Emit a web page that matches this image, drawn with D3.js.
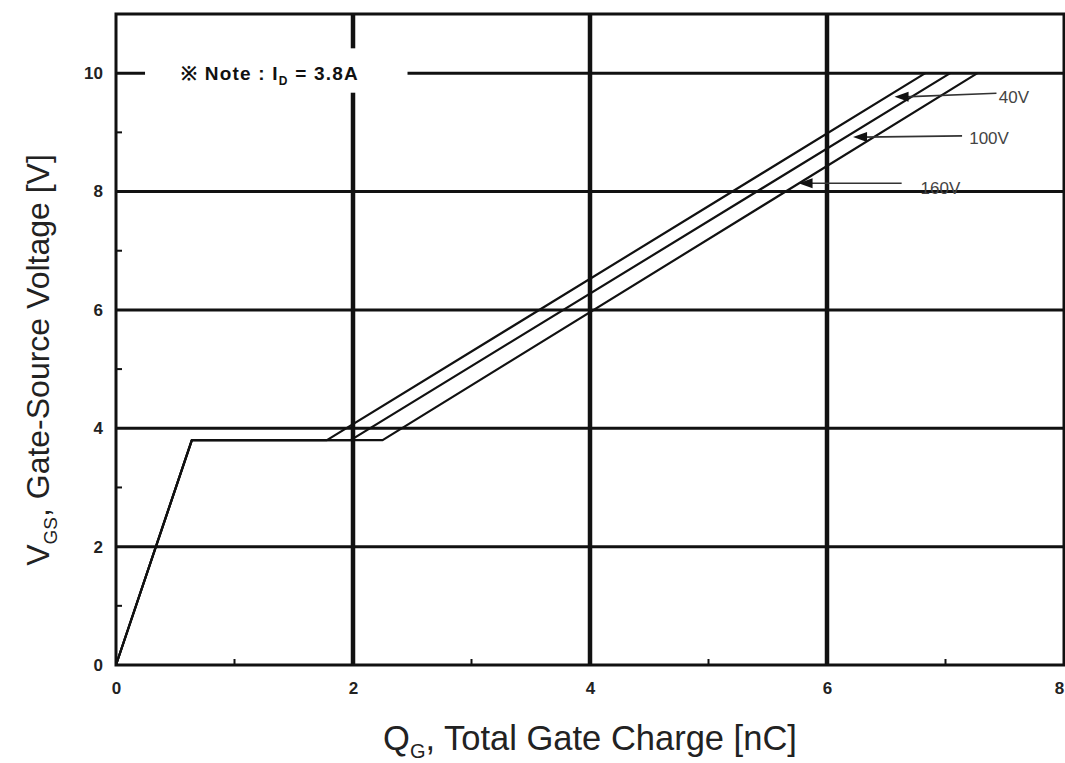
<!DOCTYPE html>
<html>
<head>
<meta charset="utf-8">
<script src="https://cdn.jsdelivr.net/npm/d3@7"></script>
<style>
  html, body { margin: 0; padding: 0; background: #fff; }
  svg { display: block; }
  text { font-family: "Liberation Sans", Arial, sans-serif; }
</style>
</head>
<body>
<svg id="chart" width="1065" height="763"></svg>
<script>
// ---- data ----
const seriesNames = ["40V", "100V", "160V"];
const seriesQ = [
  [0, 0.64, 1.78, 6.83],
  [0, 0.64, 1.98, 7.04],
  [0, 0.64, 2.25, 7.27]
];
const seriesV = [
  [0, 3.8, 3.8, 10],
  [0, 3.8, 3.8, 10],
  [0, 3.8, 3.8, 10]
];
const xTicks = [0, 2, 4, 6, 8];
const xMinorTicks = [1, 3, 5, 7];
const yTicks = [0, 2, 4, 6, 8, 10];
const yMinorTicks = [1, 3, 5, 7, 9];
const xGrid = [2, 4, 6];
const yGrid = [2, 4, 6, 8, 10];
const annTipQ = [6.57, 6.22, 5.76];
const annTipV = [9.6, 8.92, 8.14];
const annTailQ = [7.43, 7.14, 6.63];
const annTailV = [9.66, 8.94, 8.14];
const annTextQ = [7.45, 7.2, 6.79];
const annTextV = [9.6, 8.9, 8.06];
const noteText = ["※  Note : I", "D", " = 3.8A"];
const noteBox = { q0: 0.245, q1: 2.46, v0: 9.67, v1: 10.42 };

// ---- layout ----
const svg = d3.select("#chart");
const x = d3.scaleLinear().domain([0, 8]).range([116, 1064]);
const y = d3.scaleLinear().domain([0, 11]).range([665, 14]);

// grid lines
const g = svg.append("g");
g.selectAll(".hgrid").data(yGrid).enter().append("line")
  .attr("x1", x(0)).attr("x2", x(8))
  .attr("y1", d => y(d)).attr("y2", d => y(d))
  .attr("stroke", "#111").attr("stroke-width", 3);
g.selectAll(".vgrid").data(xGrid).enter().append("line")
  .attr("x1", d => x(d)).attr("x2", d => x(d))
  .attr("y1", y(0)).attr("y2", y(11))
  .attr("stroke", "#111").attr("stroke-width", 4.5);

// note background (interrupts grid)
g.append("rect")
  .attr("x", x(noteBox.q0)).attr("y", y(noteBox.v1))
  .attr("width", x(noteBox.q1) - x(noteBox.q0))
  .attr("height", y(noteBox.v0) - y(noteBox.v1))
  .attr("fill", "#fff");

// frame
g.append("rect")
  .attr("x", x(0)).attr("y", y(11))
  .attr("width", x(8) - x(0)).attr("height", y(0) - y(11))
  .attr("fill", "none").attr("stroke", "#111").attr("stroke-width", 3);

// axes
const xAxis = d3.axisBottom(x).tickValues(xTicks).tickSize(0).tickPadding(17).tickFormat(d3.format("d"));
const yAxis = d3.axisLeft(y).tickValues(yTicks).tickSize(0).tickPadding(13).tickFormat(d3.format("d"));
const gx = svg.append("g").attr("transform", `translate(0,${y(0)})`).call(xAxis);
const gy = svg.append("g").attr("transform", `translate(${x(0)},0)`).call(yAxis);
[gx, gy].forEach(a => {
  a.select(".domain").remove();
  a.selectAll("text").attr("font-size", 17).attr("font-weight", "bold")
    .attr("fill", "#222").style("font-family", '"Liberation Sans", Arial, sans-serif');
});
// keep the last x label inside the page edge
gx.selectAll(".tick text").filter(d => d === 8).attr("dx", -5);

// minor ticks (inward)
svg.selectAll(".xminor").data(xMinorTicks).enter().append("line")
  .attr("x1", d => x(d)).attr("x2", d => x(d))
  .attr("y1", y(0)).attr("y2", y(0) - 6)
  .attr("stroke", "#111").attr("stroke-width", 2);
svg.selectAll(".yminor").data(yMinorTicks).enter().append("line")
  .attr("x1", x(0)).attr("x2", x(0) + 6)
  .attr("y1", d => y(d)).attr("y2", d => y(d))
  .attr("stroke", "#111").attr("stroke-width", 2);

// curves
const line = d3.line().x(d => x(d[0])).y(d => y(d[1]));
seriesNames.forEach((name, i) => {
  const pts = seriesQ[i].map((q, j) => [q, seriesV[i][j]]);
  svg.append("path").datum(pts).attr("d", line)
    .attr("fill", "none").attr("stroke", "#111").attr("stroke-width", 2.2)
    .attr("stroke-linejoin", "round");
});

// annotations with arrows
seriesNames.forEach((name, i) => {
  svg.append("line")
    .attr("x1", x(annTipQ[i]) + 10).attr("y1", y(annTipV[i]))
    .attr("x2", x(annTailQ[i])).attr("y2", y(annTailV[i]))
    .attr("stroke", "#333").attr("stroke-width", 1.6);
  svg.append("path")
    .attr("d", `M${x(annTipQ[i])},${y(annTipV[i])} l14,-5 l0,10 z`)
    .attr("fill", "#111");
  svg.append("text")
    .attr("x", x(annTextQ[i])).attr("y", y(annTextV[i]))
    .attr("dy", "0.35em")
    .attr("font-size", 17).attr("fill", "#444")
    .text(name);
});

// note
const nt = svg.append("text")
  .attr("x", x(0.55)).attr("y", y(10)).attr("dy", "0.35em")
  .attr("font-size", 19).attr("font-weight", "bold").attr("fill", "#111")
  .attr("letter-spacing", 1.2);
nt.append("tspan").text(noteText[0]);
nt.append("tspan").attr("font-size", 12).attr("dy", "5").text(noteText[1]);
nt.append("tspan").attr("dy", "-5").text(noteText[2]);

// axis titles
const xt = svg.append("text")
  .attr("x", (x(0) + x(8)) / 2).attr("y", 750)
  .attr("text-anchor", "middle").attr("font-size", 34.5).attr("fill", "#222");
xt.append("tspan").text("Q");
xt.append("tspan").attr("font-size", 20).attr("dy", 8).text("G");
xt.append("tspan").attr("dy", -8).text(", Total Gate Charge [nC]");

const yt = svg.append("text")
  .attr("transform", `translate(49,360) rotate(-90)`)
  .attr("text-anchor", "middle").attr("font-size", 32).attr("fill", "#222");
yt.append("tspan").text("V");
yt.append("tspan").attr("font-size", 19).attr("dy", 8).text("GS");
yt.append("tspan").attr("dy", -8).text(", Gate-Source Voltage [V]");
</script>
</body>
</html>
